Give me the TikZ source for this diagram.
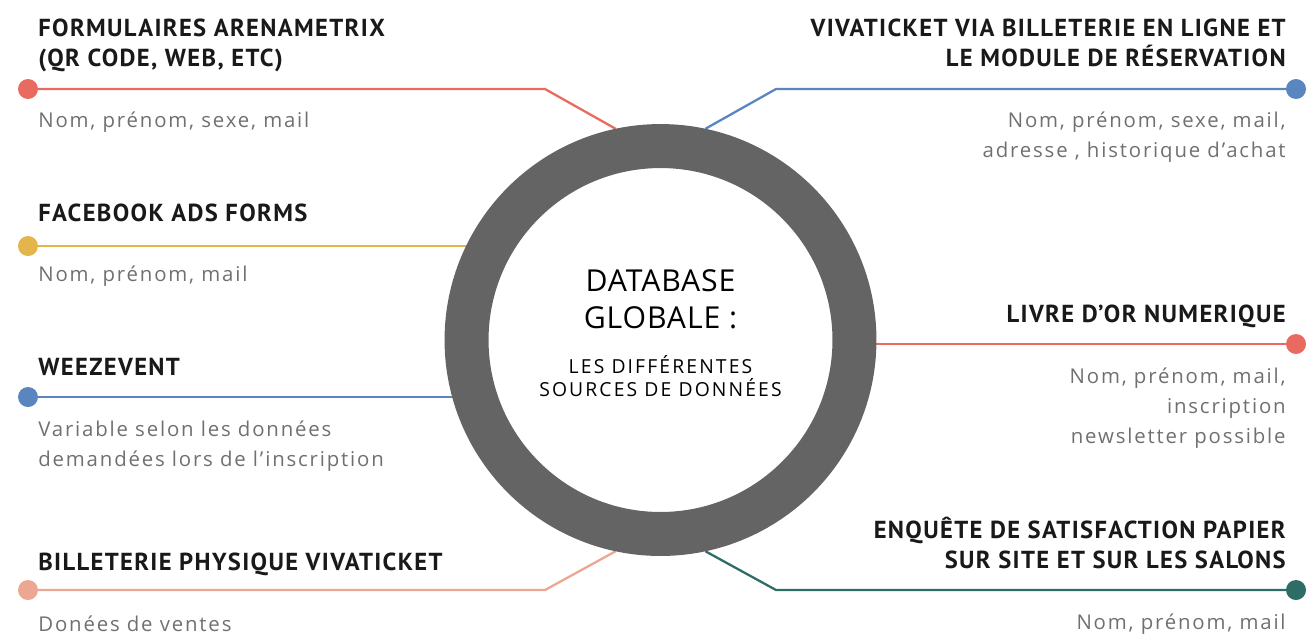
\documentclass[tikz,border=0pt]{standalone}
\usepackage{fontspec}
\setmainfont{Open Sans}
\newfontfamily\headfont{PT Sans}[LetterSpace=5.5]
\newfontfamily\descfont{Open Sans}[LetterSpace=9]
\newfontfamily\dbfont{Open Sans}[LetterSpace=3]
\newfontfamily\dbsubfont{Open Sans}[LetterSpace=11]
\usetikzlibrary{backgrounds}

\definecolor{cRed}{HTML}{E96A60}
\definecolor{cBlue}{HTML}{5A86BF}
\definecolor{cYellow}{HTML}{E3B54A}
\definecolor{cSalmon}{HTML}{EBA791}
\definecolor{cTeal}{HTML}{2D6D66}
\definecolor{cRing}{HTML}{646464}
\definecolor{cText}{HTML}{707070}

\begin{document}
\begin{tikzpicture}[x=0.02cm, y=-0.02cm,
  ring/.style={circle, draw=cRing, line width=0.88cm, minimum size=7.76cm, inner sep=0pt},
  dot/.style={circle, inner sep=0pt, minimum size=0.4cm},
  wire/.style={line width=1.3pt},
  head/.style={inner sep=0pt, text=black!90, font=\headfont\bfseries\fontsize{14}{17}\selectfont},
  desc/.style={inner sep=0pt, text=cText, font=\descfont\fontsize{11.6}{17}\selectfont},
  lhead/.style={head, anchor=base west, align=left},
  rhead/.style={head, anchor=base east, align=right},
  ldesc/.style={desc, anchor=base west, align=left},
  rdesc/.style={desc, anchor=base east, align=right}]
\useasboundingbox (0,0) rectangle (1310,637);

% centre
\node[ring] (db) at (660.5,340) {};
\node[align=center, inner sep=0pt, anchor=base,
  font=\dbfont\fontsize{17.2}{20.75}\selectfont] (dbtitle) at (660.5,328.3)
  {DATABASE\\GLOBALE :};
\node[align=center, inner sep=0pt, anchor=base,
  font=\dbsubfont\fontsize{11}{13.3}\selectfont] (dbsub) at (660.5,396.7)
  {LES DIFFÉRENTES\\SOURCES DE DONNÉES};

% dots
\node[dot, fill=cRed] (p1) at (28,89) {};
\node[dot, fill=cYellow] (p2) at (28,246) {};
\node[dot, fill=cBlue] (p3) at (28,397) {};
\node[dot, fill=cSalmon] (p4) at (28,590) {};
\node[dot, fill=cBlue] (p5) at (1296,89) {};
\node[dot, fill=cRed] (p6) at (1296,344) {};
\node[dot, fill=cTeal] (p7) at (1296,590) {};

\coordinate (k1) at (545,89);
\coordinate (k4) at (545,590);
\coordinate (k5) at (776,89);
\coordinate (k7) at (776,590);

% connectors
\begin{scope}[on background layer]
\draw[wire, cRed] (p1.center) -- (k1) -- (db.102);
\draw[wire, cYellow] (p2.center) -- (db.151 |- p2.center);
\draw[wire, cBlue] (p3.center) -- (db.197 |- p3.center);
\draw[wire, cSalmon] (p4.center) -- (k4) -- (db.258);
\draw[wire, cBlue] (p5.center) -- (k5) -- (db.78);
\draw[wire, cRed] (p6.center) -- (db.359 |- p6.center);
\draw[wire, cTeal] (p7.center) -- (k7) -- (db.282);
\end{scope}

% left
\node[lhead] (t1) at (38,66) {FORMULAIRES ARENAMETRIX\\(QR CODE, WEB, ETC)};
\node[ldesc] (d1) at (38,127.5) {Nom, prénom, sexe, mail};
\node[lhead] (t2) at (38,221) {FACEBOOK ADS FORMS};
\node[ldesc] (d2) at (38,281) {Nom, prénom, mail};
\node[lhead] (t3) at (38,375) {WEEZEVENT};
\node[ldesc] (d3) at (38,466.5) {Variable selon les données\\demandées lors de l’inscription};
\node[lhead] (t4) at (38,570) {BILLETERIE PHYSIQUE VIVATICKET};
\node[ldesc] (d4) at (38,631) {Donées de ventes};

% right
\node[rhead] (t5) at (1286,66) {VIVATICKET VIA BILLETERIE EN LIGNE ET\\LE MODULE DE RÉSERVATION};
\node[rdesc] (d5) at (1286,157) {Nom, prénom, sexe, mail,\\adresse , historique d’achat};
\node[rhead] (t6) at (1286,322) {LIVRE D’OR NUMERIQUE};
\node[rdesc] (d6) at (1286,443.5) {Nom, prénom, mail,\\inscription\\newsletter possible};
\node[rhead] (t7) at (1286,568) {ENQUÊTE DE SATISFACTION PAPIER\\SUR SITE ET SUR LES SALONS};
\node[rdesc] (d7) at (1286,629) {Nom, prénom, mail};
\end{tikzpicture}
\end{document}
